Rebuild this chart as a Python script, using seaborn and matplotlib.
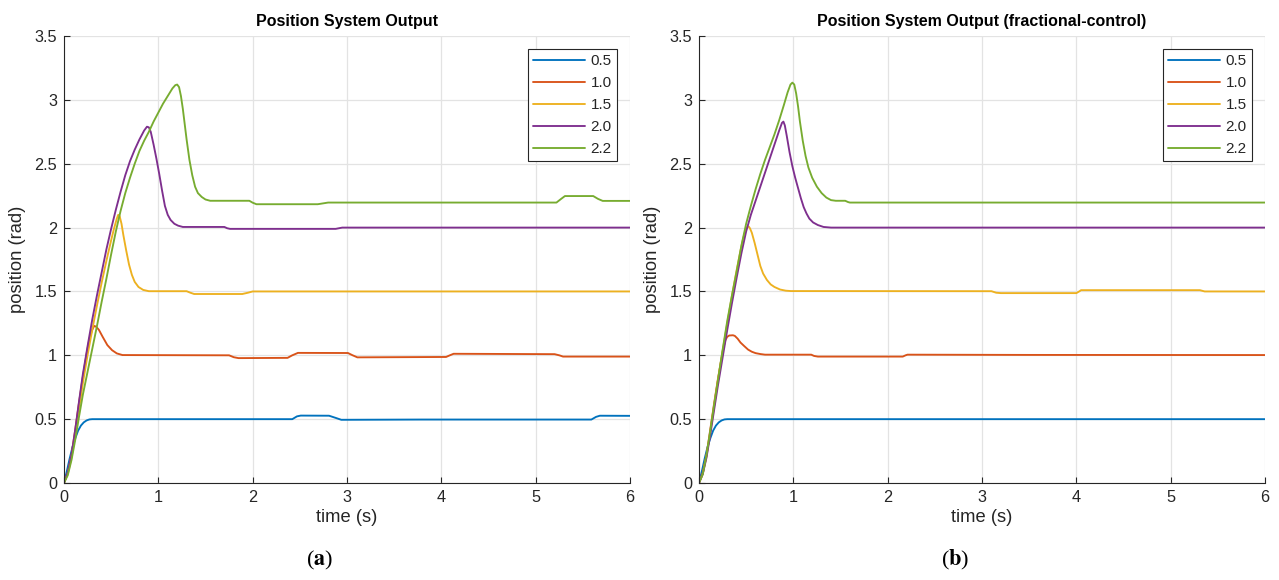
import matplotlib
matplotlib.use("Agg")
import matplotlib.pyplot as plt
import seaborn as sns
import pandas as pd

# ---------------- data ----------------
series_labels = ["0.5", "1.0", "1.5", "2.0", "2.2"]
colors = ["#0072BD", "#D95319", "#EDB120", "#7E2F8E", "#77AC30"]
x_ticks = [0, 1, 2, 3, 4, 5, 6]
y_ticks = [0, 0.5, 1, 1.5, 2, 2.5, 3, 3.5]
y_tick_labels = ["0", "0.5", "1", "1.5", "2", "2.5", "3", "3.5"]

# (a) Position System Output
a_t_05 = [0, 0.03, 0.06, 0.09, 0.12, 0.15, 0.18, 0.21, 0.24, 0.27, 0.3, 2.42, 2.47, 2.51, 2.81, 2.88, 2.94, 3.8,
          5.59, 5.64, 5.68, 6.0]
a_y_05 = [0, 0.09, 0.19, 0.28, 0.35, 0.41, 0.45, 0.475, 0.49, 0.498, 0.5, 0.5, 0.522, 0.528, 0.527, 0.51, 0.495, 0.497,
          0.497, 0.518, 0.527, 0.526]

a_t_10 = [0, 0.04, 0.08, 0.12, 0.16, 0.2, 0.24, 0.27, 0.3, 0.32, 0.34, 0.37, 0.41, 0.46, 0.51, 0.56, 0.62, 1.75, 1.8, 1.85,
          2.37, 2.42, 2.48, 3.01, 3.06, 3.11, 4.05, 4.09, 4.13, 5.2, 5.25, 5.29, 6.0]
a_y_10 = [0, 0.08, 0.22, 0.42, 0.63, 0.83, 1.01, 1.13, 1.2, 1.23, 1.225, 1.2, 1.145, 1.08, 1.04, 1.015, 1.002, 1.0, 0.985,
          0.978, 0.98, 1.0, 1.019, 1.018, 1.0, 0.984, 0.987, 1.0, 1.012, 1.009, 1.0, 0.99, 0.99]

a_t_15 = [0, 0.04, 0.08, 0.12, 0.16, 0.2, 0.25, 0.3, 0.35, 0.4, 0.45, 0.5, 0.53, 0.56, 0.575, 0.59, 0.61, 0.63, 0.66, 0.69,
          0.72, 0.75, 0.79, 0.84, 0.9, 1.30, 1.34, 1.38, 1.89, 1.95, 2.0, 6.0]
a_y_15 = [0, 0.07, 0.2, 0.38, 0.58, 0.78, 1.0, 1.2, 1.39, 1.57, 1.74, 1.9, 1.99, 2.07, 2.1, 2.09, 2.03, 1.94, 1.82, 1.71,
          1.63, 1.575, 1.535, 1.512, 1.502, 1.502, 1.49, 1.48, 1.48, 1.49, 1.5, 1.5]

a_t_20 = [0, 0.04, 0.08, 0.12, 0.16, 0.2, 0.25, 0.3, 0.35, 0.4, 0.45, 0.5, 0.55, 0.6, 0.65, 0.7, 0.75, 0.8, 0.85, 0.88,
          0.9, 0.92, 0.95, 0.98, 1.01, 1.04, 1.07, 1.1, 1.13, 1.17, 1.21, 1.26, 1.70, 1.73, 1.76, 2.88, 2.95, 6.0]
a_y_20 = [0, 0.08, 0.22, 0.42, 0.64, 0.85, 1.07, 1.28, 1.47, 1.65, 1.83, 1.99, 2.14, 2.28, 2.41, 2.52, 2.61, 2.69, 2.76, 2.79,
          2.785, 2.75, 2.65, 2.54, 2.42, 2.29, 2.17, 2.1, 2.06, 2.03, 2.015, 2.005, 2.005, 1.995, 1.99, 1.99, 2.0, 2.0]

a_t_22 = [0, 0.04, 0.08, 0.12, 0.16, 0.2, 0.25, 0.3, 0.35, 0.4, 0.45, 0.5, 0.55, 0.6, 0.65, 0.7, 0.75, 0.8, 0.85, 0.9,
          0.95, 1.0, 1.05, 1.1, 1.15, 1.18, 1.2, 1.22, 1.24, 1.26, 1.28, 1.3, 1.33, 1.36, 1.39, 1.42, 1.46, 1.5, 1.55,
          1.965, 2.0, 2.04, 2.69, 2.75, 2.8, 5.22, 5.27, 5.31, 5.61, 5.66, 5.71, 6.0]
a_y_22 = [0, 0.06, 0.18, 0.34, 0.52, 0.69, 0.87, 1.05, 1.23, 1.42, 1.6, 1.79, 1.97, 2.13, 2.27, 2.39, 2.5, 2.6, 2.68, 2.75,
          2.83, 2.9, 2.97, 3.03, 3.09, 3.115, 3.12, 3.1, 3.03, 2.93, 2.81, 2.69, 2.53, 2.41, 2.32, 2.27, 2.24, 2.22, 2.21,
          2.21, 2.195, 2.183, 2.183, 2.19, 2.196, 2.196, 2.225, 2.247, 2.247, 2.225, 2.209, 2.209]

# (b) Position System Output (fractional-control)
b_t_05 = [0, 0.03, 0.06, 0.09, 0.12, 0.15, 0.18, 0.21, 0.24, 0.27, 0.3, 6.0]
b_y_05 = [0, 0.09, 0.19, 0.28, 0.35, 0.41, 0.45, 0.475, 0.49, 0.498, 0.5, 0.5]

b_t_10 = [0, 0.04, 0.08, 0.12, 0.16, 0.2, 0.23, 0.26, 0.28, 0.3, 0.32, 0.36, 0.38, 0.41, 0.44, 0.48, 0.52, 0.56, 0.6, 0.65,
          0.7, 1.19, 1.22, 1.26, 2.16, 2.19, 2.21, 3.5, 6.0]
b_y_10 = [0, 0.08, 0.22, 0.42, 0.62, 0.81, 0.94, 1.06, 1.12, 1.145, 1.155, 1.157, 1.152, 1.13, 1.1, 1.072, 1.045, 1.028, 1.017,
          1.01, 1.005, 1.005, 0.995, 0.99, 0.99, 1.0, 1.005, 1.003, 1.002]

b_t_15 = [0, 0.04, 0.08, 0.12, 0.16, 0.2, 0.25, 0.3, 0.35, 0.4, 0.44, 0.47, 0.49, 0.51, 0.525, 0.54, 0.56, 0.59, 0.62, 0.65,
          0.68, 0.72, 0.76, 0.8, 0.86, 0.92, 0.975, 3.1, 3.15, 3.2, 4.0, 4.03, 4.05, 5.31, 5.36, 6.0]
b_y_15 = [0, 0.07, 0.21, 0.4, 0.6, 0.8, 1.03, 1.25, 1.47, 1.67, 1.82, 1.92, 1.97, 2.005, 2.01, 1.995, 1.96, 1.88, 1.79, 1.7,
          1.64, 1.59, 1.555, 1.535, 1.515, 1.506, 1.503, 1.502, 1.49, 1.487, 1.487, 1.5, 1.51, 1.51, 1.5, 1.5]

b_t_20 = [0, 0.04, 0.08, 0.12, 0.16, 0.2, 0.25, 0.3, 0.35, 0.4, 0.45, 0.5, 0.55, 0.6, 0.65, 0.7, 0.75, 0.8, 0.85, 0.88,
          0.895, 0.91, 0.93, 0.96, 0.99, 1.02, 1.05, 1.08, 1.11, 1.14, 1.17, 1.21, 1.26, 1.32, 1.4, 6.0]
b_y_20 = [0, 0.07, 0.2, 0.38, 0.57, 0.76, 0.98, 1.2, 1.41, 1.61, 1.8, 1.97, 2.1, 2.21, 2.32, 2.43, 2.54, 2.65, 2.76, 2.82,
          2.83, 2.8, 2.72, 2.59, 2.48, 2.39, 2.31, 2.23, 2.16, 2.11, 2.07, 2.04, 2.02, 2.005, 2.0, 2.0]

b_t_22 = [0, 0.04, 0.08, 0.12, 0.16, 0.2, 0.25, 0.3, 0.35, 0.4, 0.45, 0.5, 0.55, 0.6, 0.65, 0.7, 0.75, 0.8, 0.85, 0.9,
          0.94, 0.97, 0.99, 1.01, 1.03, 1.05, 1.07, 1.1, 1.13, 1.16, 1.2, 1.25, 1.3, 1.35, 1.4, 1.45, 1.55, 1.58, 1.6, 6.0]
b_y_22 = [0, 0.07, 0.22, 0.41, 0.61, 0.8, 1.04, 1.27, 1.47, 1.66, 1.86, 2.03, 2.17, 2.3, 2.42, 2.53, 2.63, 2.73, 2.84, 2.96,
          3.06, 3.12, 3.135, 3.12, 3.05, 2.95, 2.83, 2.68, 2.56, 2.47, 2.39, 2.32, 2.27, 2.235, 2.215, 2.21, 2.21, 2.2,
          2.196, 2.196]

panels = [
    ("Position System Output", "(a)",
     [(a_t_05, a_y_05), (a_t_10, a_y_10), (a_t_15, a_y_15), (a_t_20, a_y_20), (a_t_22, a_y_22)]),
    ("Position System Output (fractional-control)", "(b)",
     [(b_t_05, b_y_05), (b_t_10, b_y_10), (b_t_15, b_y_15), (b_t_20, b_y_20), (b_t_22, b_y_22)]),
]

# ---------------- style ----------------
sns.set_theme(style="whitegrid")
plt.rcParams["font.family"] = ["Liberation Sans", "DejaVu Sans"]
plt.rcParams["mathtext.fontset"] = "stix"
DARK = "#262626"

fig = plt.figure(figsize=(12.79, 5.8), dpi=100)
axes_pos = [[0.0500, 0.1672, 0.4426, 0.7707], [0.5465, 0.1672, 0.4426, 0.7707]]
label_x = [0.250, 0.747]

for (title, sub, curves), pos, lx in zip(panels, axes_pos, label_x):
    ax = fig.add_axes(pos)
    rows = []
    for lab, (ts, ys) in zip(series_labels, curves):
        for t, y in zip(ts, ys):
            rows.append({"t": t, "y": y, "series": lab})
    df = pd.DataFrame(rows)
    sns.lineplot(data=df, x="t", y="y", hue="series", hue_order=series_labels,
                 palette=colors, estimator=None, sort=False, linewidth=1.35, ax=ax)
    ax.set_xlim(0, 6)
    ax.set_ylim(0, 3.5)
    ax.set_xticks(x_ticks)
    ax.set_xticklabels([str(v) for v in x_ticks])
    ax.set_yticks(y_ticks)
    ax.set_yticklabels(y_tick_labels)
    ax.set_facecolor("white")
    ax.grid(True, color="#e3e3e3", linewidth=0.9)
    for s in ["top", "right"]:
        ax.spines[s].set_visible(False)
    for s in ["left", "bottom"]:
        ax.spines[s].set_visible(True)
        ax.spines[s].set_color(DARK)
        ax.spines[s].set_linewidth(0.8)
    ax.tick_params(axis="both", direction="in", length=4, width=0.8, color=DARK,
                   labelsize=11.7, labelcolor=DARK, pad=5, left=True, bottom=True)
    ax.set_xlabel("time (s)", fontsize=13.2, color=DARK, labelpad=3)
    ax.set_ylabel("position (rad)", fontsize=13.2, color=DARK, labelpad=6)
    ax.set_title(title, fontsize=11.5, fontweight="bold", color="black", pad=7)
    handles, labels = ax.get_legend_handles_labels()
    leg = ax.legend(handles, labels, loc="upper right", fontsize=11, frameon=True,
                    fancybox=False, edgecolor=DARK, framealpha=1, borderaxespad=0.85,
                    handlelength=3.4, handletextpad=0.35, labelspacing=0.52,
                    borderpad=0.35, title=None)
    leg.get_frame().set_linewidth(0.8)
    fig.text(lx, 0.034, sub.replace(sub[1], r"$\mathbf{" + sub[1] + "}$"),
             ha="center", va="center", fontsize=16, family="Liberation Serif", color="black")

fig.savefig("out.png", dpi=100, facecolor="white")
